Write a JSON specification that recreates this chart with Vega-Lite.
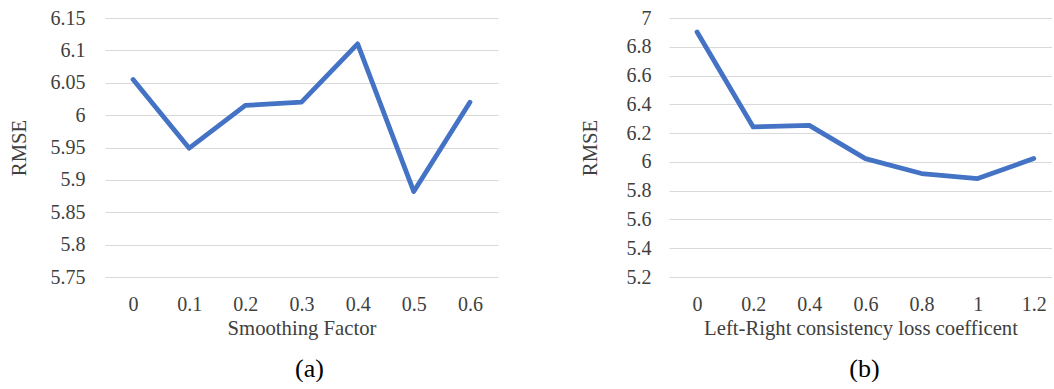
{
  "$schema": "https://vega.github.io/schema/vega-lite/v6.json",
  "background": "white",
  "padding": {"left": 8, "top": 8, "right": 0, "bottom": 0},
  "autosize": {"type": "pad"},
  "config": {
    "view": {"stroke": null},
    "font": "Liberation Serif",
    "axis": {
      "labelFont": "Liberation Serif",
      "titleFont": "Liberation Serif",
      "labelFontSize": 20,
      "titleFontSize": 20.7,
      "labelColor": "#404040",
      "titleColor": "#404040",
      "titleFontWeight": "normal",
      "domain": false,
      "ticks": false,
      "tickSize": 0,
      "gridColor": "#d9d9d9",
      "gridWidth": 1.2
    },
    "title": {"font": "Liberation Serif", "fontSize": 26, "fontWeight": "normal", "color": "#000000"}
  },
  "hconcat": [
    {
      "width": 393,
      "height": 259,
      "title": {"text": "(a)", "orient": "bottom", "anchor": "middle", "frame": "group", "offset": 18, "dx": 8},
      "data": {"values": [
        {"factor": 0, "rmse": 6.055},
        {"factor": 0.1, "rmse": 5.949},
        {"factor": 0.2, "rmse": 6.015},
        {"factor": 0.3, "rmse": 6.02},
        {"factor": 0.4, "rmse": 6.11},
        {"factor": 0.5, "rmse": 5.882},
        {"factor": 0.6, "rmse": 6.02}
      ]},
      "mark": {"type": "line", "color": "#4472C4", "strokeWidth": 4.8, "strokeCap": "round", "strokeJoin": "round", "clip": true},
      "encoding": {
        "x": {"field": "factor", "type": "quantitative", "title": "Smoothing Factor",
          "scale": {"domain": [-0.05, 0.65], "nice": false, "zero": false},
          "axis": {"values": [0, 0.1, 0.2, 0.3, 0.4, 0.5, 0.6], "format": "~g", "grid": false, "labelPadding": 17, "titlePadding": 4}},
        "y": {"field": "rmse", "type": "quantitative", "title": "RMSE",
          "scale": {"domain": [5.75, 6.15], "nice": false, "zero": false},
          "axis": {"values": [5.75, 5.8, 5.85, 5.9, 5.95, 6, 6.05, 6.1, 6.15], "format": "~g", "labelPadding": 20, "titlePadding": 21}}
      }
    },
    {
      "width": 383,
      "height": 259,
      "title": {"text": "(b)", "orient": "bottom", "anchor": "middle", "frame": "group", "offset": 18, "dx": 4},
      "data": {"values": [
        {"coef": 0, "rmse": 6.903},
        {"coef": 0.2, "rmse": 6.243},
        {"coef": 0.4, "rmse": 6.254},
        {"coef": 0.6, "rmse": 6.023},
        {"coef": 0.8, "rmse": 5.919},
        {"coef": 1, "rmse": 5.884},
        {"coef": 1.2, "rmse": 6.023}
      ]},
      "mark": {"type": "line", "color": "#4472C4", "strokeWidth": 4.8, "strokeCap": "round", "strokeJoin": "round", "clip": true},
      "encoding": {
        "x": {"field": "coef", "type": "quantitative", "title": "Left-Right consistency loss coefficent",
          "scale": {"domain": [-0.1, 1.265], "nice": false, "zero": false},
          "axis": {"values": [0, 0.2, 0.4, 0.6, 0.8, 1, 1.2], "format": "~g", "grid": false, "labelPadding": 17, "titlePadding": 4}},
        "y": {"field": "rmse", "type": "quantitative", "title": "RMSE",
          "scale": {"domain": [5.2, 7], "nice": false, "zero": false},
          "axis": {"values": [5.2, 5.4, 5.6, 5.8, 6, 6.2, 6.4, 6.6, 6.8, 7], "format": "~g", "labelPadding": 18, "titlePadding": 26}}
      }
    }
  ],
  "spacing": 81
}
